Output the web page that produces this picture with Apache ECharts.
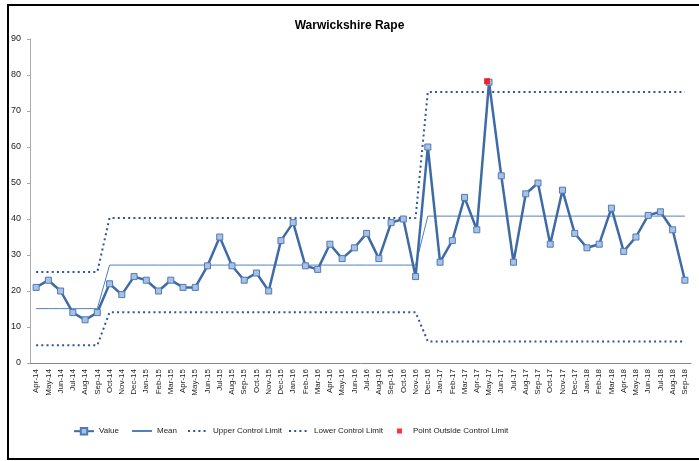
<!DOCTYPE html>
<html>
<head>
<meta charset="utf-8">
<script src="https://cdn.jsdelivr.net/npm/echarts@6/dist/echarts.min.js"></script>
<style>html,body{margin:0;padding:0;background:#fff;}#c{width:699px;height:461px;}</style>
</head>
<body>
<div id="c"></div>
<script>
const categories = ["Apr-14","May-14","Jun-14","Jul-14","Aug-14","Sep-14","Oct-14","Nov-14","Dec-14","Jan-15","Feb-15","Mar-15","Apr-15","May-15","Jun-15","Jul-15","Aug-15","Sep-15","Oct-15","Nov-15","Dec-15","Jan-16","Feb-16","Mar-16","Apr-16","May-16","Jun-16","Jul-16","Aug-16","Sep-16","Oct-16","Nov-16","Dec-16","Jan-17","Feb-17","Mar-17","Apr-17","May-17","Jun-17","Jul-17","Aug-17","Sep-17","Oct-17","Nov-17","Dec-17","Jan-18","Feb-18","Mar-18","Apr-18","May-18","Jun-18","Jul-18","Aug-18","Sep-18"];
const values = [21,23,20,14,12,14,22,19,24,23,20,23,21,21,27,35,27,23,25,20,34,39,27,26,33,29,32,36,29,39,40,24,60,28,34,46,37,78,52,28,47,50,33,48,36,32,33,43,31,35,41,42,37,23];
// control limit levels per period
const periodStarts = [0, 6, 32];
const periodMeans = [15.1, 27.2, 40.8];
const periodUCL = [25.3, 40.3, 75.3];
const periodLCL = [4.9, 14.1, 6.0];
const outsideIndex = [37];
const yTicks = [0,10,20,30,40,50,60,70,80,90];
const seriesNames = ['Value','Mean','Upper Control Limit','Lower Control Limit','Point Outside Control Limit'];

function periodArray(levels){
  return categories.map((c,i)=>{
    let p = 0;
    for (let k=0;k<periodStarts.length;k++) if (i>=periodStarts[k]) p=k;
    return levels[p];
  });
}
const meanData = periodArray(periodMeans);
const uclData = periodArray(periodUCL);
const lclData = periodArray(periodLCL);
const outsideData = categories.map((c,i)=> outsideIndex.includes(i) ? values[i] : null);

const chart = echarts.init(document.getElementById('c'));
const limitColor = '#2E5597';
const legendFont = {fontSize:8,color:'#222',fontFamily:'Liberation Sans Narrow, Liberation Sans, Arial, sans-serif'};
const legendLefts = [73,131,187,288,397];
const legends = seriesNames.map((n,i)=>({
  left:legendLefts[i], top:427, itemGap:0, padding:0,
  itemWidth: i===4 ? 5 : 20, itemHeight: i===4 ? 5 : 8,
  textStyle: Object.assign({padding:[0,0,0, i===4 ? 6 : 0]}, legendFont),
  data:[ (i===1||i===2||i===3) ? {name:n,itemStyle:{opacity:0}} : {name:n} ],
  selectedMode:false
}));
chart.setOption({
  animation:false,
  backgroundColor:'#fff',
  textStyle:{fontFamily:'Liberation Sans, Arial, sans-serif'},
  graphic:[{type:'rect',shape:{x:8,y:5,width:700,height:454},style:{fill:'none',stroke:'#000',lineWidth:2},z:-1}],
  title:{text:'Warwickshire Rape',left:'center',top:15,textStyle:{fontSize:12,fontWeight:'bold',color:'#000',fontFamily:'Liberation Sans, Arial, sans-serif'}},
  grid:{left:30,right:8,top:39,bottom:98,containLabel:false},
  legend:legends,
  xAxis:{
    type:'category',data:categories,boundaryGap:true,
    axisLine:{lineStyle:{color:'#888',width:1}},
    axisTick:{show:false},
    axisLabel:{rotate:90,fontSize:8,color:'#222',interval:0,margin:6}
  },
  yAxis:{
    type:'value',min:0,max:90,interval:10,
    axisLine:{show:true,lineStyle:{color:'#AAA',width:1}},
    axisTick:{show:true,length:3,lineStyle:{color:'#AAA'}},
    splitLine:{show:false},
    axisLabel:{fontSize:9,color:'#222',margin:9,formatter:v=>yTicks.includes(v)?String(v):''}
  },
  series:[
    {name:seriesNames[0],type:'line',data:values,symbol:'rect',symbolSize:6,z:5,
     lineStyle:{color:'#3E6BA5',width:2.5},
     itemStyle:{color:'#A9C1E4',borderColor:'#4E7BB6',borderWidth:1}},
    {name:seriesNames[1],type:'line',data:meanData,symbol:'none',z:3,
     lineStyle:{color:'#4F81BD',width:1},itemStyle:{color:'#4F81BD'}},
    {name:seriesNames[2],type:'line',data:uclData,symbol:'none',z:3,
     lineStyle:{color:limitColor,width:2,type:[2,3.2]},itemStyle:{color:limitColor}},
    {name:seriesNames[3],type:'line',data:lclData,symbol:'none',z:3,
     lineStyle:{color:limitColor,width:2,type:[2,3.2]},itemStyle:{color:limitColor}},
    {name:seriesNames[4],type:'scatter',data:outsideData,symbol:'rect',symbolSize:6,z:6,
     itemStyle:{color:'#FF0000'},symbolOffset:[-2,-1]}
  ]
});
</script>
</body>
</html>
